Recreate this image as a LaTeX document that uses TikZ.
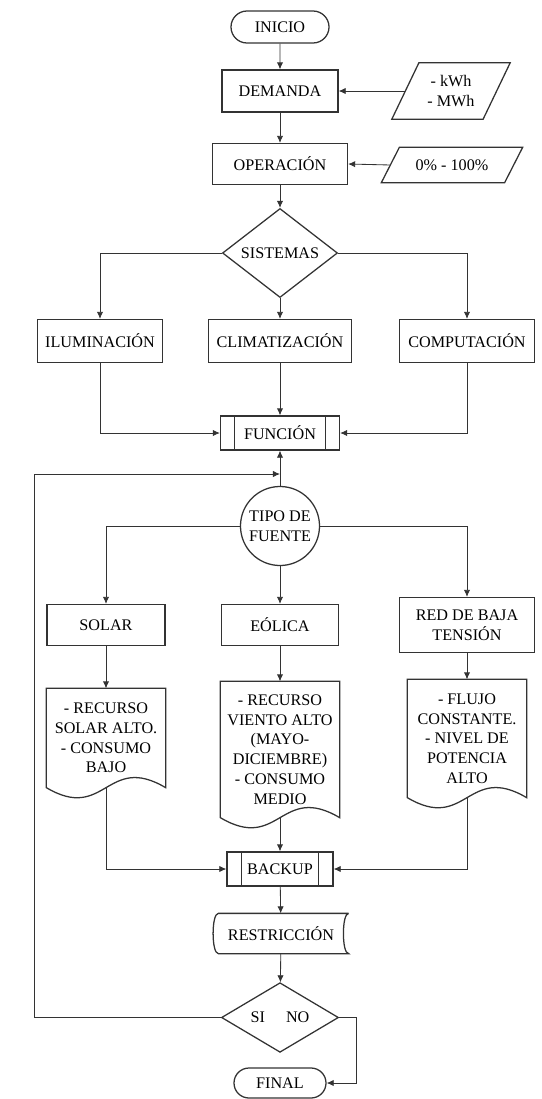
\documentclass[tikz,border=0pt]{standalone}
\usepackage{fontspec}
\setmainfont{Liberation Serif}
\usetikzlibrary{shapes.geometric,shapes.misc,arrows.meta}

\tikzset{
 base/.style={draw=black!80,line width=0.9pt,font=\fontsize{11.5}{14}\selectfont,inner sep=0pt,align=center},
 caja/.style={base,rectangle},
 terminal/.style={base,rounded rectangle},
 datos/.style={base,draw=none,rectangle},
 decision/.style={base,diamond},
 circulo/.style={base,circle},
 documento/.style={base,draw=none,rectangle,minimum width=2.95cm},
 almacen/.style={base,draw=none,rectangle},
 borde/.style={draw=black!80,line width=0.9pt},
 flecha/.style={draw=black!80,line width=0.6pt,-{Latex[length=5pt,width=4.5pt]}}
}

\begin{document}
\begin{tikzpicture}[x=0.025cm,y=-0.025cm]
\useasboundingbox (0,0) rectangle (541,1099);
\node[terminal,minimum width=2.45cm,minimum height=0.8cm] (ini) at (280,27) {INICIO};
\node[caja,minimum width=2.9cm,minimum height=1.05cm] (dem) at (280,91) {DEMANDA};
\node[datos,minimum width=2.25cm,minimum height=1.375cm] (kwh) at (451,91) {- kWh\\- MWh};
\node[caja,minimum width=3.375cm,minimum height=1.025cm] (ope) at (280,164) {OPERACIÓN};
\node[datos,minimum width=3.05cm,minimum height=0.85cm] (pct) at (452,165) {0\% - 100\%};
\node[decision,minimum width=2.875cm,minimum height=1.725cm] (sis) at (280,253) {SISTEMAS};
\node[caja,minimum width=3.125cm,minimum height=1.075cm] (ilu) at (100,341) {ILUMINACIÓN};
\node[caja,minimum width=3.575cm,minimum height=1.075cm] (cli) at (280,341) {CLIMATIZACIÓN};
\node[caja,minimum width=3.375cm,minimum height=1.075cm] (com) at (467,341) {COMPUTACIÓN};
\node[caja,minimum width=2.975cm,minimum height=0.85cm] (fun) at (280,433) {FUNCIÓN};
\node[circulo,minimum size=1.975cm] (tip) at (280,526) {TIPO DE\\FUENTE};
\node[caja,minimum width=2.95cm,minimum height=1.025cm] (sol) at (106,625) {SOLAR};
\node[caja,minimum width=2.925cm,minimum height=1.025cm] (eol) at (280,625) {EÓLICA};
\node[caja,minimum width=3.375cm,minimum height=1.375cm] (red) at (467,625) {RED DE BAJA\\TENSIÓN};
\node[documento,minimum height=2.45cm] (soldoc) at (106,738) {- RECURSO\\SOLAR ALTO.\\- CONSUMO\\BAJO};
\node[documento,minimum height=3.375cm] (eoldoc) at (280,749.5) {- RECURSO\\VIENTO ALTO\\(MAYO-\\DICIEMBRE)\\- CONSUMO\\MEDIO};
\node[documento,minimum height=2.925cm] (reddoc) at (467,738.5) {- FLUJO\\CONSTANTE.\\- NIVEL DE\\POTENCIA\\ALTO};
\node[caja,minimum width=2.65cm,minimum height=0.85cm] (bak) at (280,869) {BACKUP};
\node[almacen,minimum width=3.35cm,minimum height=0.975cm] (res) at (281,933.5) {RESTRICCIÓN};
\node[decision,minimum width=2.925cm,minimum height=1.725cm] (sn) at (280,1017.5) {SI\hspace{1.3em}NO};
\node[terminal,minimum width=2.3cm,minimum height=0.75cm] (fin) at (280,1083) {FINAL};
\coordinate (ret) at (34,474);

\foreach \p/\s in {kwh/0.3375cm,pct/0.225cm}
  \draw[borde] ([xshift=\s]\p.north west) -- ([xshift=\s]\p.north east) -- ([xshift=-\s]\p.south east) -- ([xshift=-\s]\p.south west) -- cycle;
\foreach \p in {fun,bak}{
  \draw[borde] ([xshift=0.375cm]\p.north west) -- ([xshift=0.375cm]\p.south west);
  \draw[borde] ([xshift=-0.375cm]\p.north east) -- ([xshift=-0.375cm]\p.south east);
}
\foreach \d in {soldoc,eoldoc,reddoc}
  \draw[borde] (\d.south east) .. controls +(-59,-35) and +(59,35) .. (\d.south west) -- (\d.north west) -- (\d.north east) -- cycle;
\draw[borde] (res.north east) -- ([xshift=0.125cm]res.north west) .. controls +(-7,0) and +(-7,0) .. ([xshift=0.125cm]res.south west) -- (res.south east) .. controls +(-7,0) and +(-7,0) .. (res.north east);

\draw[flecha] (ini) -- (dem);
\draw[flecha] (dem) -- (ope);
\draw[flecha] (kwh.west) -- (dem.east);
\draw[flecha] (pct.west) -- (ope.east);
\draw[flecha] (ope) -- (sis);
\draw[flecha] (sis.west) -| (ilu.north);
\draw[flecha] (sis) -- (cli);
\draw[flecha] (sis.east) -| (com.north);
\draw[flecha] (ilu.south) |- (fun.west);
\draw[flecha] (cli) -- (fun);
\draw[flecha] (com.south) |- (fun.east);
\draw[flecha] (tip) -- (fun);
\draw[flecha] (tip.west) -| (sol.north);
\draw[flecha] (tip) -- (eol);
\draw[flecha] (tip.east) -| (red.north);
\draw[flecha] (sol) -- (soldoc);
\draw[flecha] (eol) -- (eoldoc);
\draw[flecha] (red) -- (reddoc);
\draw[flecha] (soldoc.south) |- (bak.west);
\draw[flecha] (eoldoc) -- (bak);
\draw[flecha] (reddoc.south) |- (bak.east);
\draw[flecha] (bak) -- (res);
\draw[flecha] (res) -- (sn);
\draw[flecha] (sn.west) -| (ret) -- (ret -| tip.north);
\draw[flecha] (sn.east) -- ++(17,0) |- (fin.east);
\end{tikzpicture}
\end{document}
